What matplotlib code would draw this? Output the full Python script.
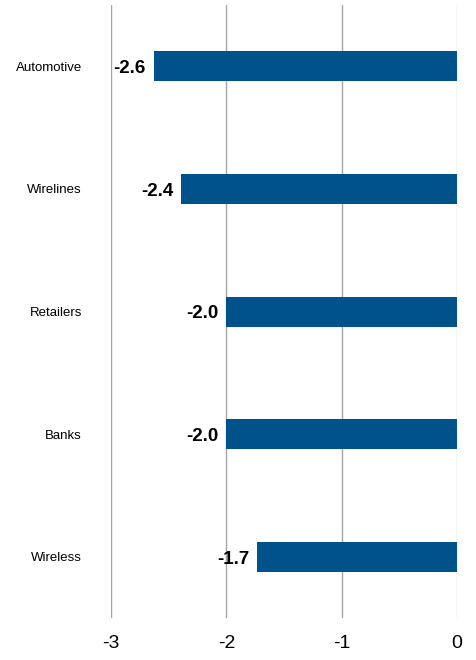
import matplotlib.pyplot as plt
from matplotlib import font_manager

categories = ["Automotive", "Wirelines", "Retailers", "Banks", "Wireless"]
values = [-2.63, -2.39, -2.0, -2.0, -1.73]
value_labels = ["-2.6", "-2.4", "-2.0", "-2.0", "-1.7"]
xticks = [-3, -2, -1, 0]

names = set(f.name for f in font_manager.fontManager.ttflist)
fam = "Liberation Sans Narrow" if "Liberation Sans Narrow" in names else "Liberation Sans"
plt.rcParams['font.family'] = [fam, 'DejaVu Sans']

fig = plt.figure(figsize=(4.76, 6.6), dpi=100)
ax = fig.add_axes([0.2332, 0.0636, 0.7269, 0.9288])

ypos = list(range(len(categories)))
ax.barh(ypos, values, height=0.245, color="#00538a", zorder=3)

for y, v, lab in zip(ypos, values, value_labels):
    ax.text(v - 0.07, y + 0.02, lab, ha="right", va="center", fontsize=13.5,
            fontweight="bold", color="black", zorder=4)

ax.set_xlim(-3, 0)
ax.set_ylim(4.5, -0.5)
ax.set_xticks(xticks)
ax.set_xticklabels([str(t) for t in xticks], fontsize=14)
ax.set_yticks(ypos)
ax.set_yticklabels(categories, fontsize=9.5)
ax.tick_params(axis="y", length=0, pad=21)
ax.tick_params(axis="x", length=0, pad=12)
ax.grid(axis="x", color="#a6a6a6", linewidth=1.0, zorder=0)
# the zero line is drawn lighter in the original
ax.get_xgridlines()[-1].set_color("#d4d4d4")
for s in ax.spines.values():
    s.set_visible(False)

fig.savefig("out.png", dpi=100)
